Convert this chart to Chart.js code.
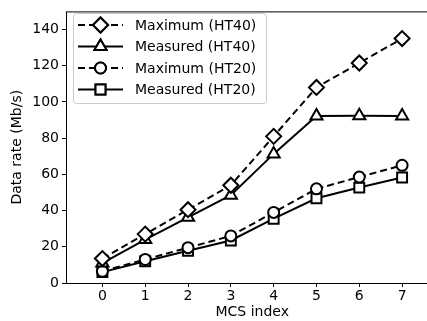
<!DOCTYPE html>
<html>
<head>
<meta charset="utf-8">
<script src="https://cdn.jsdelivr.net/npm/chart.js@4"></script>
<style>
  html, body { margin: 0; padding: 0; background: #fff; overflow: hidden; width: 427px; height: 321px; }
  /* the original figure is cut off on the right, so the chart runs past the window */
  #wrap { width: 448px; height: 321px; }
</style>
</head>
<body>
<div id="wrap"><canvas id="chartRate" width="448" height="321" style="width:448px;height:321px"></canvas></div>
<script>
// data
const mcsIndex = [0, 1, 2, 3, 4, 5, 6, 7];
const maxHT40 = [13.5, 27, 40.5, 54, 81, 108, 121.5, 135];
const measuredHT40 = [11, 24, 36.3, 48.5, 71.3, 92.2, 92.4, 92.2];
const maxHT20 = [6.5, 13, 19.5, 26, 39, 52, 58.5, 65];
const measuredHT20 = [6, 12, 17.8, 23.5, 35.5, 46.8, 52.7, 58.3];
const xTicks = [0, 1, 2, 3, 4, 5, 6, 7];
const yTicks = [0, 20, 40, 60, 80, 100, 120, 140];

const FONT = 'DejaVu Sans';

function toPoints(ys) {
    return mcsIndex.map((x, i) => ({ x: x, y: ys[i] }));
}

function makeSet(label, ys, style, radius, dashed) {
    return {
        label: label,
        data: toPoints(ys),
        borderColor: '#000',
        backgroundColor: '#fff',
        borderWidth: 2,
        borderDash: dashed ? [7, 4] : [],
        pointStyle: style,
        pointRadius: radius,
        pointBorderWidth: 2,
        pointBackgroundColor: '#fff',
        pointBorderColor: '#000',
        tension: 0
    };
}

// legend drawn by hand: line + marker sample, like matplotlib
const boxLegend = {
    id: 'boxLegend',
    afterDatasetsDraw(chart) {
        const ctx = chart.ctx;
        const x0 = 73, y0 = 13, w = 193, h = 90;
        ctx.save();
        ctx.fillStyle = 'rgba(255,255,255,0.85)';
        ctx.strokeStyle = '#cccccc';
        ctx.lineWidth = 1;
        ctx.beginPath();
        ctx.roundRect(x0 + 0.5, y0 + 0.5, w, h, 3);
        ctx.fill();
        ctx.stroke();

        chart.data.datasets.forEach((ds, i) => {
            const cy = y0 + 12 + i * 21.5;
            ctx.strokeStyle = '#000';
            ctx.lineWidth = 2;
            ctx.setLineDash(ds.borderDash);
            ctx.beginPath();
            ctx.moveTo(78, cy);
            ctx.lineTo(123, cy);
            ctx.stroke();
            ctx.setLineDash([]);
            ctx.fillStyle = '#fff';
            Chart.helpers.drawPoint(ctx, {
                pointStyle: ds.pointStyle,
                radius: ds.pointRadius,
                borderWidth: 2,
                rotation: 0
            }, 100.5, cy);
            ctx.fill();
            ctx.stroke();
            ctx.fillStyle = '#000';
            ctx.font = '14px ' + FONT;
            ctx.textBaseline = 'middle';
            ctx.fillText(ds.label, 135, cy + 1);
        });
        ctx.restore();
    }
};

// frame on all four sides
const frame = {
    id: 'frame',
    afterDraw(chart) {
        const a = chart.chartArea;
        const ctx = chart.ctx;
        ctx.save();
        ctx.strokeStyle = '#000';
        ctx.lineWidth = 1;
        ctx.strokeRect(a.left + 0.5, a.top + 0.5, a.right - a.left - 1, a.bottom - a.top);
        ctx.restore();
    }
};

new Chart(document.getElementById('chartRate'), {
    type: 'line',
    data: {
        datasets: [
            makeSet('Maximum (HT40)', maxHT40, 'rectRot', 7.5, true),
            makeSet('Measured (HT40)', measuredHT40, 'triangle', 7, false),
            makeSet('Maximum (HT20)', maxHT20, 'circle', 5.5, true),
            makeSet('Measured (HT20)', measuredHT20, 'rect', 7, false)
        ]
    },
    options: {
        responsive: false,
        animation: false,
        layout: { padding: { top: 6, right: 0, left: 9, bottom: 0 } },
        plugins: {
            legend: { display: false },
            tooltip: { enabled: false }
        },
        scales: {
            x: {
                type: 'linear',
                min: -0.85,
                max: 7.85,
                afterBuildTicks: (scale) => { scale.ticks = xTicks.map(v => ({ value: v })); },
                afterFit: (scale) => { scale.height = 38; },
                border: { display: false },
                grid: { drawOnChartArea: false, color: '#000', tickLength: 4 },
                ticks: { color: '#000', font: { family: FONT, size: 14 }, padding: 1, maxRotation: 0 },
                title: { display: true, text: 'MCS index', color: '#000', font: { family: FONT, size: 14 }, padding: { top: 0, bottom: 0 } }
            },
            y: {
                min: 0,
                max: 150,
                afterBuildTicks: (scale) => { scale.ticks = yTicks.map(v => ({ value: v })); },
                afterFit: (scale) => { scale.width = 57; },
                border: { display: false },
                grid: { drawOnChartArea: false, color: '#000', tickLength: 4 },
                ticks: { color: '#000', font: { family: FONT, size: 14 }, padding: 3 },
                title: { display: true, text: 'Data rate (Mb/s)', color: '#000', font: { family: FONT, size: 14 }, padding: { top: 0, bottom: 4 } }
            }
        }
    },
    plugins: [boxLegend, frame]
});
</script>
</body>
</html>
